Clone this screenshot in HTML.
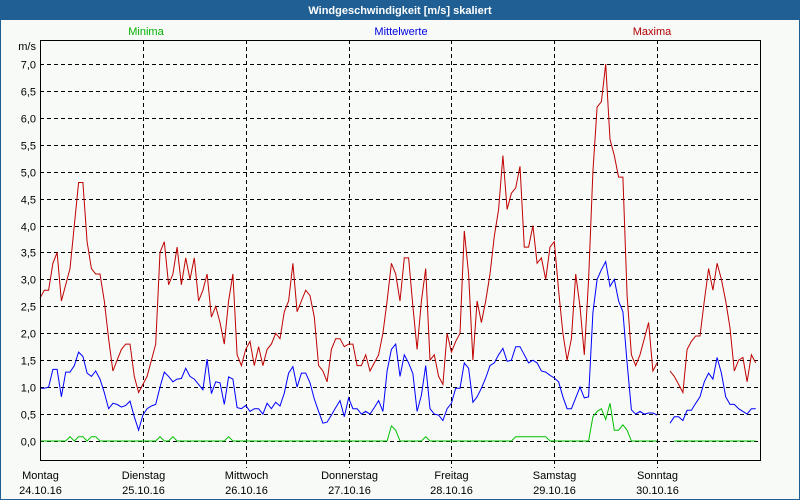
<!DOCTYPE html>
<html><head><meta charset="utf-8">
<style>
body{margin:0;width:800px;height:500px;overflow:hidden;background:#f7faf7;font-family:"Liberation Sans",sans-serif}
svg{display:block}
</style></head>
<body>
<svg id="chart" width="800" height="500" xmlns="http://www.w3.org/2000/svg" font-family="Liberation Sans, sans-serif" font-size="11">
<rect x="0" y="0" width="800" height="500" fill="#f7faf7" stroke="#1f5f94" stroke-width="2"/>
<rect x="0" y="0" width="800" height="20" fill="#1f5f94"/>
<text x="400" y="14" text-anchor="middle" fill="#ffffff" font-weight="bold">Windgeschwindigkeit [m/s] skaliert</text>
<text x="146" y="35" text-anchor="middle" fill="#00b000">Minima</text>
<text x="401" y="35" text-anchor="middle" fill="#0000e0">Mittelwerte</text>
<text x="652" y="35" text-anchor="middle" fill="#b00000">Maxima</text>
<text x="36" y="50" text-anchor="end" fill="#000">m/s</text>
<g id="grid" shape-rendering="crispEdges"></g>
<g id="series"></g>
<rect x="40.5" y="40.5" width="720" height="420" fill="none" stroke="#000" stroke-width="1" shape-rendering="crispEdges"/>
<g id="labels"></g>
</svg>
<script>
const dayNames = ["Montag","Dienstag","Mittwoch","Donnerstag","Freitag","Samstag","Sonntag"];
const dayDates = ["24.10.16","25.10.16","26.10.16","27.10.16","28.10.16","29.10.16","30.10.16"];
const yTicks = [0,0.5,1,1.5,2,2.5,3,3.5,4,4.5,5,5.5,6,6.5,7];
const maxima = [2.65,2.8,2.8,3.3,3.5,2.6,2.9,3.2,4.0,4.8,4.8,3.7,3.2,3.1,3.1,2.6,1.9,1.3,1.5,1.7,1.8,1.8,1.2,0.9,
1.05,1.2,1.5,1.8,3.5,3.7,2.9,3.1,3.6,2.9,3.4,3.0,3.4,2.6,2.8,3.1,2.3,2.5,2.2,1.8,2.6,3.1,1.6,1.4,
1.7,1.85,1.4,1.75,1.4,1.7,1.8,2.0,1.9,2.4,2.6,3.3,2.4,2.6,2.8,2.7,2.3,1.4,1.3,1.1,1.7,1.9,1.9,1.75,
1.8,1.8,1.4,1.4,1.6,1.3,1.45,1.6,2.0,2.6,3.3,3.1,2.6,3.4,3.4,2.5,1.7,2.6,3.2,1.5,1.6,1.2,1.05,2.0,
1.65,1.85,2.0,3.9,3.1,1.5,2.6,2.2,2.6,3.1,3.8,4.3,5.3,4.3,4.6,4.7,5.1,3.6,3.6,4.0,3.3,3.4,3.0,3.6,
3.7,2.8,2.0,1.5,1.9,3.1,2.5,1.6,3.0,5.0,6.2,6.3,7.0,5.6,5.3,4.9,4.9,2.7,1.6,1.4,1.6,1.9,2.2,1.3,
1.45,null,null,1.3,1.2,1.05,0.9,1.7,1.85,1.95,1.95,2.6,3.2,2.8,3.3,3.0,2.6,2.1,1.3,1.5,1.55,1.1,1.6,1.45];
const mittel = [0.98,0.98,1.0,1.33,1.33,0.82,1.28,1.28,1.4,1.65,1.57,1.26,1.2,1.3,1.15,0.9,0.6,0.7,0.68,0.63,0.66,0.74,0.45,0.2,
0.48,0.6,0.65,0.68,1.0,1.28,1.2,1.1,1.15,1.16,1.35,1.2,1.15,1.05,0.95,1.52,0.88,1.1,1.08,0.68,1.19,1.15,0.62,0.6,
0.66,0.55,0.6,0.6,0.5,0.7,0.6,0.72,0.65,0.89,1.26,1.38,1.0,1.26,1.26,1.08,0.78,0.55,0.33,0.35,0.48,0.62,0.75,0.45,
0.8,0.6,0.6,0.5,0.55,0.5,0.62,0.75,0.55,1.3,1.7,1.8,1.2,1.6,1.45,1.25,0.55,0.85,1.4,0.6,0.5,0.48,0.38,0.6,
0.7,0.98,0.98,1.45,1.35,0.72,0.82,0.98,1.17,1.4,1.45,1.6,1.72,1.48,1.5,1.75,1.75,1.6,1.45,1.5,1.45,1.3,1.28,1.22,
1.17,1.1,0.82,0.6,0.6,0.8,1.0,0.8,0.82,2.38,3.0,3.18,3.33,2.87,3.0,2.6,2.4,1.45,0.58,0.5,0.55,0.5,0.52,0.52,
0.48,null,null,0.33,0.45,0.45,0.38,0.57,0.57,0.7,0.82,1.1,1.26,1.15,1.55,1.26,0.82,0.68,0.68,0.6,0.55,0.5,0.6,0.6];
const minima = [0,0,0,0,0,0,0,0.08,0,0.08,0.08,0,0.08,0.08,0,0,0,0,0,0,0,0,0,0,
0,0,0,0,0.08,0,0,0.08,0,0,0,0,0,0,0,0,0,0,0,0,0.08,0,0,0,
0,0,0,0,0,0,0,0,0,0,0,0,0,0,0,0,0,0,0,0,0,0,0,0,
0,0,0,0,0,0,0,0,0,0,0.28,0.2,0,0,0,0,0,0,0.08,0,0,0,0,0,
0,0,0,0,0,0,0,0,0,0,0,0,0,0,0,0.08,0.08,0.08,0.08,0.08,0.08,0.08,0.08,0,
0,0,0,0,0,0,0,0,0,0.45,0.55,0.6,0.4,0.7,0.2,0.2,0.3,0.2,0,0,0,0,0,0,
0,null,null,null,0,0,0,0,0,0,0,0,0,0,0,0,0,0,0,0,0,0,0,0];

const NS="http://www.w3.org/2000/svg";
const X0=40, X1=760, Y0=441, PPU=53.86, HOURS=168;
function xScale(i){return X0 + i*(X1-X0)/HOURS;}
function yScale(v){return Y0 - v*PPU;}
function mk(tag,attrs,parent){const e=document.createElementNS(NS,tag);for(const k in attrs)e.setAttribute(k,attrs[k]);parent.appendChild(e);return e;}

const grid=document.getElementById('grid');
const labels=document.getElementById('labels');
yTicks.forEach(t=>{
  const y=Math.round(yScale(t))+0.5;
  const l=mk('line',{x1:X0,x2:X1,y1:y,y2:y,stroke:'#000','stroke-dasharray':'4 3'},grid);
  
  
  const tx=mk('text',{x:36,y:y+4,'text-anchor':'end',fill:'#000'},labels);
  tx.textContent=t.toFixed(1).replace('.',',');
  
  
});
dayNames.forEach((d,i)=>{
  const x=Math.round(xScale(i*24))+0.5;
  if(i>0){
    const l=mk('line',{x1:x,x2:x,y1:40,y2:468,stroke:'#000','stroke-dasharray':'4 3'},grid);
    
    
  }
  const t1=mk('text',{x:x,y:479,'text-anchor':'middle',fill:'#000'},labels);
  t1.textContent=d;
  
  
  const t2=mk('text',{x:x,y:494,'text-anchor':'middle',fill:'#000'},labels);
  t2.textContent=dayDates[i];
  
  
});

const series=document.getElementById('series');
function drawSeries(arr,color,name){
  let d='',pen=false;
  arr.forEach((v,i)=>{
    if(v===null){pen=false;return;}
    d+=(pen?'L':'M')+xScale(i).toFixed(1)+' '+yScale(v).toFixed(1)+' ';
    pen=true;
  });
  const p=mk('path',{d:d,fill:'none',stroke:color,'stroke-width':1},series);
  
  
}
drawSeries(minima,'#00c000','minima-line');
drawSeries(mittel,'#0000ff','mittelwerte-line');
drawSeries(maxima,'#c00000','maxima-line');
</script>
</body></html>
